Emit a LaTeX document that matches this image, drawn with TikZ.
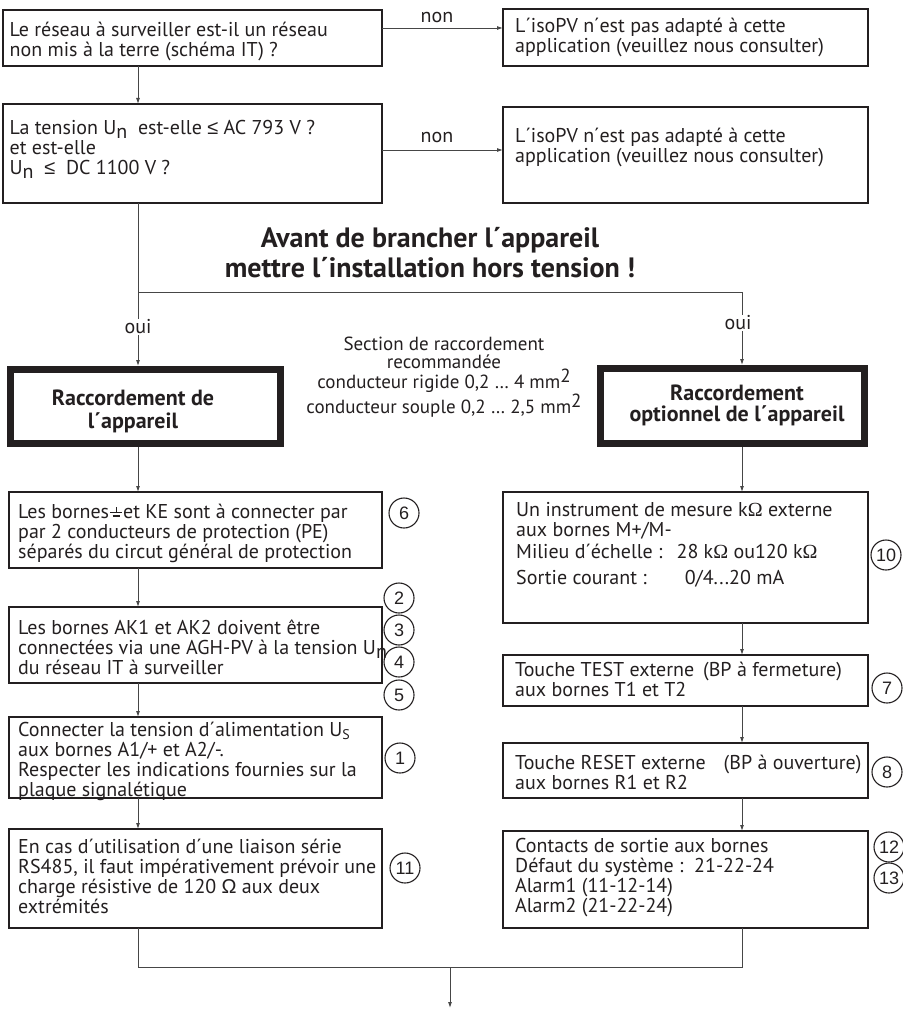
\documentclass[tikz,border=0pt]{standalone}
\usepackage{fontspec}
\setmainfont{PT Sans}
\newfontfamily\arialf{Liberation Sans}
\newfontfamily\timesf{Liberation Serif}
\usetikzlibrary{arrows.meta}
\definecolor{ink}{RGB}{35,31,32}
\definecolor{wire}{RGB}{70,70,70}
\newcommand{\gndsym}{\hspace{1pt}\raisebox{1.5pt}{\vbox{\offinterlineskip\hbox to 12pt{\hss\vrule width 1.2pt height 5pt\hss}\hbox to 12pt{\hss\vrule width 12pt height 1.4pt\hss}\vskip2pt\hbox to 12pt{\hss\vrule width 7pt height 1.4pt\hss}}}\hspace{1pt}}
\newcommand{\subn}{\raisebox{-4pt}{n}}
\begin{document}
\begin{tikzpicture}[x=1pt,y=-1pt,
  bx/.style={draw=ink, line width=1.3pt, inner sep=0pt, outer sep=0pt},
  thick box/.style={draw=ink, line width=7pt, inner sep=0pt},
  txt/.style={text=ink, anchor=west, align=left, inner sep=0pt, font=\fontsize{20}{20}\selectfont},
  lbl/.style={text=ink, inner sep=1pt, font=\fontsize{20}{20}\selectfont},
  circ/.style={circle, draw=ink, line width=1.1pt, minimum size=30pt, inner sep=0pt, text=ink, font=\arialf\fontsize{18}{18}\selectfont},
  wirestyle/.style={draw=wire, line width=0.9pt},
  arr/.style={wirestyle, -{Latex[length=6pt,width=4pt]}}
]
\useasboundingbox (0,0) rectangle (902,1011);

% boxes
\node[bx, minimum width=379pt, minimum height=56pt] (B1) at (192.5,38) {};
\node[bx, minimum width=379pt, minimum height=99pt] (B2) at (192.5,153.5) {};
\node[bx, minimum width=365pt, minimum height=57pt] (R1) at (685.5,37.5) {};
\node[bx, minimum width=365pt, minimum height=96pt] (R2) at (685.5,155) {};
\node[thick box, minimum width=270pt, minimum height=74pt] (LT) at (145.5,406.5) {};
\node[thick box, minimum width=264pt, minimum height=75pt] (RT) at (732.5,406) {};
\node[bx, minimum width=373pt, minimum height=76pt] (L1) at (195.5,530) {};
\node[bx, minimum width=373pt, minimum height=76pt] (L2) at (195.5,645) {};
\node[bx, minimum width=373pt, minimum height=81pt] (L3) at (195.5,757.5) {};
\node[bx, minimum width=373pt, minimum height=99pt] (L4) at (195.5,878.5) {};
\node[bx, minimum width=365pt, minimum height=131pt] (R3) at (685.5,557.5) {};
\node[bx, minimum width=365pt, minimum height=51pt] (R4) at (685.5,680.5) {};
\node[bx, minimum width=365pt, minimum height=55pt] (R5) at (685.5,770.5) {};
\node[bx, minimum width=365pt, minimum height=97pt] (R6) at (685.5,879.5) {};

% texts
\node[txt] (tB1) at (9.5,42) {Le réseau à surveiller est-il un réseau\\non mis à la terre (schéma IT) ?};
\node[txt] (tB2) at (9.5,149) {La tension U\subn\ \ est-elle {\arialf ≤} AC 793 V ?\\et est-elle\\U\subn\ \ {\arialf ≤}\ \ DC 1100 V ?};
\node[txt] (tR1) at (515,37.5) {L´isoPV n´est pas adapté à cette\\application (veuillez nous consulter)};
\node[txt] (tR2) at (515,147.5) {L´isoPV n´est pas adapté à cette\\application (veuillez nous consulter)};
\node[txt] (tL1) at (18,533) {Les bornes\gndsym et KE sont à connecter par\\par 2 conducteurs de protection (PE)\\séparés du circut général de protection};
\node[txt] (tL2) at (18,647) {Les bornes AK1 et AK2 doivent être\\connectées via une AGH-PV à la tension U\subn\\du réseau IT à surveiller};
\node[txt] (tL3) at (18,761) {Connecter la tension d´alimentation U\raisebox{-3pt}{\fontsize{14}{14}\selectfont S}\\aux bornes A1/+ et A2/-.\\Respecter les indications fournies sur la\\plaque signalétique};
\node[txt] (tL4) at (18,876.5) {En cas d´utilisation d´une liaison série\\RS485, il faut impérativement prévoir une\\charge résistive de 120 {\arialf Ω} aux deux\\extrémités};
\node[txt] (tR3) at (516,545) {Un instrument de mesure k{\timesf Ω} externe\\aux bornes M+/M-\\[2pt]Milieu d´échelle :\hspace{14pt}28 k{\timesf Ω} ou120 k{\timesf Ω}\\[6pt]Sortie courant :\hspace{38pt}0/4...20 mA};
\node[txt] (tR4) at (515,679) {Touche TEST externe\hspace{9pt}(BP à fermeture)\\aux bornes T1 et T2};
\node[txt] (tR5) at (515,772) {Touche RESET externe\hspace{18pt}(BP à ouverture)\\aux bornes R1 et R2};
\node[txt] (tR6) at (515,878) {Contacts de sortie aux bornes\\Défaut du système :\ \ 21-22-24\\Alarm1 (11-12-14)\\Alarm2 (21-22-24)};

\node[text=ink, align=center, inner sep=0pt, font=\bfseries\fontsize{28}{30}\selectfont] (head) at (430,253) {Avant de brancher l´appareil\\mettre l´installation hors tension !};
\node[text=ink, align=center, inner sep=0pt, font=\fontsize{19}{17.7}\selectfont] (sect) at (444,377) {Section de raccordement\\recommandée\\conducteur rigide 0,2 … 4 mm\raisebox{6pt}{2}\\conducteur souple 0,2 … 2,5 mm\raisebox{6pt}{2}};
\node[text=ink, align=center, inner sep=0pt, font=\bfseries\fontsize{22}{23}\selectfont] (tLT) at (133,411) {Raccordement de\\l´appareil};
\node[text=ink, align=center, inner sep=0pt, font=\bfseries\fontsize{22}{21}\selectfont] (tRT) at (737,405) {Raccordement\\optionnel de l´appareil};

% circles
\node[circ] (c6) at (404,513) {6};
\node[circ] (c2) at (399,598) {2};
\node[circ] (c3) at (399,630) {3};
\node[circ] (c4) at (399,662) {4};
\node[circ] (c5) at (399,695) {5};
\node[circ] (c1) at (400,758) {1};
\node[circ] (c11) at (405,868) {11};
\node[circ] (c10) at (886,555) {10};
\node[circ] (c7) at (887,688) {7};
\node[circ] (c8) at (887,772) {8};
\node[circ] (c12) at (889,847) {12};
\node[circ] (c13) at (889,878) {13};

% helper coordinates
\coordinate (cl) at (138,0);
\coordinate (cr) at (742,0);
\coordinate (j1) at (0,292);
\coordinate (j2) at (0,967);
\coordinate (n1) at (0,28);
\coordinate (n2) at (0,150);
\coordinate (jm) at (450,967);
\coordinate (endp) at (450,1008);

% connectors
\draw[arr] (B1.south -| cl) -- (B2.north -| cl);
\draw[arr] (B1.east |- n1) -- (R1.west |- n1);
\draw[arr] (B2.east |- n2) -- (R2.west |- n2);
\draw[arr] (B2.south -| cl) -- (LT.north -| cl);
\draw[wirestyle] (cl |- j1) -- (cr |- j1);
\draw[arr] (cr |- j1) -- (RT.north -| cr);
\draw[arr] (LT.south -| cl) -- (L1.north -| cl);
\draw[arr] (L1.south -| cl) -- (L2.north -| cl);
\draw[arr] (L2.south -| cl) -- (L3.north -| cl);
\draw[arr] (L3.south -| cl) -- (L4.north -| cl);
\draw[arr] (RT.south -| cr) -- (R3.north -| cr);
\draw[arr] (R3.south -| cr) -- (R4.north -| cr);
\draw[arr] (R4.south -| cr) -- (R5.north -| cr);
\draw[arr] (R5.south -| cr) -- (R6.north -| cr);
\draw[wirestyle] (L4.south -| cl) -- (cl |- j2) -- (cr |- j2) -- (R6.south -| cr);
\draw[arr] (jm) -- (endp);

% labels
\node[lbl] (non1) at (437,18) {non};
\node[lbl] (non2) at (437,138) {non};
\node[lbl, fill=white] (oui1) at (138,327) {oui};
\node[lbl, fill=white] (oui2) at (738,323) {oui};
\end{tikzpicture}
\end{document}
